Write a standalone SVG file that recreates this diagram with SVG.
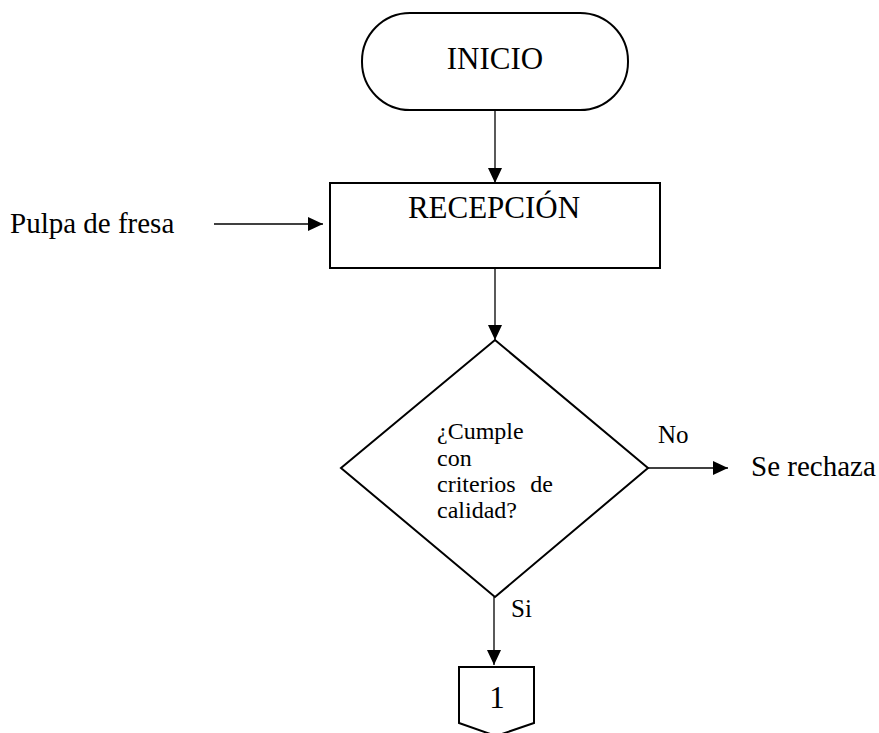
<svg xmlns="http://www.w3.org/2000/svg" width="879" height="733" viewBox="0 0 879 733">
  <style>
    .shape { fill: #ffffff; stroke: #000000; stroke-width: 2; }
    .link { fill: none; stroke: #000000; stroke-width: 1.3; }
    text { font-family: "Liberation Serif", "Times New Roman", serif; fill: #000000; }
    .big { font-size: 29px; }
    .title { font-size: 31px; }
    .lbl { font-size: 25px; }
    .small { font-size: 24px; }
  </style>
  <defs>
    <marker id="arrow" viewBox="0 0 15 14" refX="15" refY="7" markerWidth="15" markerHeight="14" markerUnits="userSpaceOnUse" orient="auto">
      <path d="M0,0 L15,7 L0,14 Z" fill="#000000"/>
    </marker>
  </defs>
  <rect width="879" height="733" fill="#ffffff"/>

  <!-- connectors -->
  <g id="connectors">
    <line class="link" x1="495" y1="110" x2="495" y2="183" marker-end="url(#arrow)"/>
    <line class="link" x1="214" y1="224" x2="323" y2="224" marker-end="url(#arrow)"/>
    <line class="link" x1="495" y1="268" x2="495" y2="340" marker-end="url(#arrow)"/>
    <line class="link" x1="648" y1="468" x2="728" y2="468" marker-end="url(#arrow)"/>
    <line class="link" x1="494" y1="597" x2="494" y2="665" marker-end="url(#arrow)"/>
  </g>

  <!-- start terminal -->
  <g id="inicio">
    <rect class="shape" x="362" y="13" width="266" height="97" rx="48" ry="48"/>
    <text class="title" x="495" y="69" text-anchor="middle">INICIO</text>
  </g>

  <!-- input label -->
  <g id="pulpa">
    <text class="big" x="10" y="233">Pulpa de fresa</text>
  </g>

  <!-- reception process -->
  <g id="recepcion">
    <rect class="shape" x="330" y="183" width="330" height="85"/>
    <text class="title" x="494" y="218" text-anchor="middle">RECEPCIÓN</text>
  </g>

  <!-- quality decision -->
  <g id="decision">
    <polygon class="shape" points="495,340 648,468 495,597 341,468"/>
    <text class="small" x="437" y="439">¿Cumple</text>
    <text class="small" x="437" y="466">con</text>
    <text class="small" x="437" y="492">criterios</text>
    <text class="small" x="553" y="492" text-anchor="end">de</text>
    <text class="small" x="437" y="518">calidad?</text>
  </g>

  <!-- branch labels -->
  <g id="label-no">
    <text class="lbl" x="658" y="443">No</text>
  </g>
  <g id="rechaza">
    <text class="big" x="751" y="476">Se rechaza</text>
  </g>
  <g id="label-si">
    <text class="lbl" x="511" y="617">Si</text>
  </g>

  <!-- off-page connector -->
  <g id="conector-1">
    <polygon class="shape" points="459,667 534,667 534,723 496,736 459,723"/>
    <text class="title" x="497" y="708" text-anchor="middle">1</text>
  </g>
</svg>
